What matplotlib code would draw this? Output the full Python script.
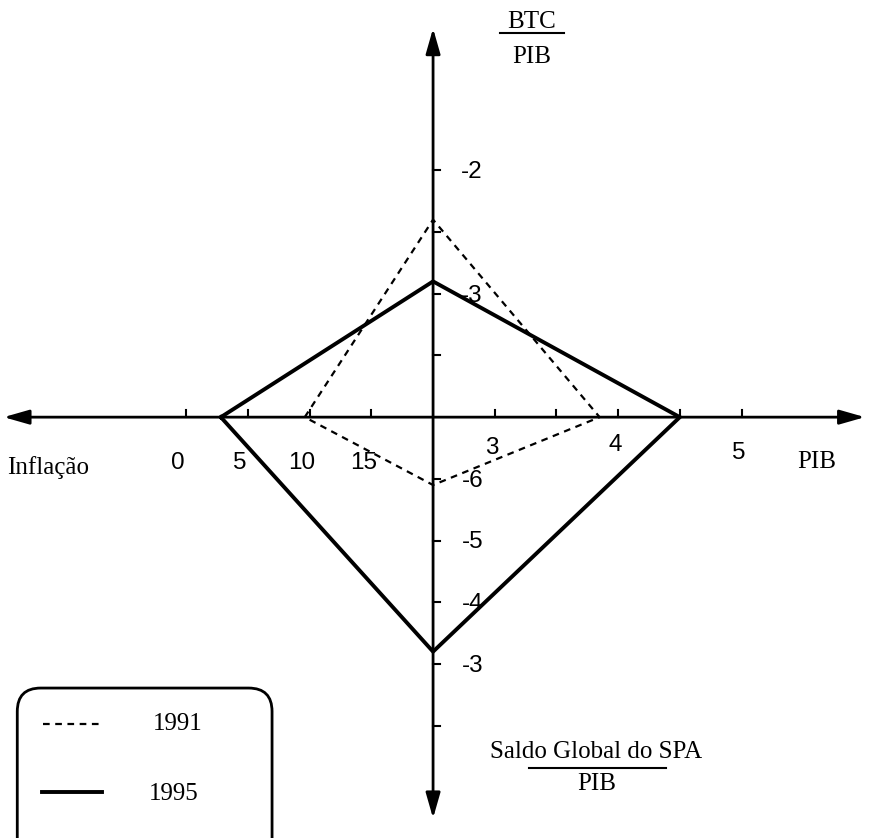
import matplotlib
matplotlib.use("Agg")
import matplotlib.pyplot as plt
from matplotlib.patches import FancyBboxPatch

# %% DATA
years = ["1991", "1995"]
inflacao = [9.6, 2.8]
btc_pib = [-2.4, -2.9]
pib = [3.85, 4.5]
saldo_spa = [-5.9, -3.2]

infl_ticks = [0, 5, 10, 15]
infl_labels = ["0", "5", "10", "15"]
btc_ticks = [-2, -2.5, -3, -3.5]
btc_labels = ["-2", "", "-3", ""]
pib_ticks = [3, 3.5, 4, 4.5, 5]
pib_lab_vals = [3, 4, 5]
pib_labels = ["3", "4", "5"]
saldo_ticks = [-6, -5, -4, -3, -2]
saldo_labels = ["-6", "-5", "-4", "-3", ""]


# each half axis has its own scale, all meet at the centre
def x_infl(v):
    return -(20 - v) / 5.0


def x_pib(v):
    return (v - 2.5) * 2.0


def y_btc(v):
    return (v + 4) * 2.0


def y_saldo(v):
    return -(v + 7)


# %% PLOT
fig = plt.figure(figsize=(8.76, 8.38), dpi=100)
ax = fig.add_axes([0, 0, 1, 1])
ax.set_xlim(-7.02, 7.18)
ax.set_ylim(-6.82, 6.76)
ax.axis("off")

arrow = dict(arrowstyle="<|-|>,head_length=0.7,head_width=0.2", lw=2,
             color="black", mutation_scale=22, shrinkA=0, shrinkB=0)
ax.annotate("", xy=(-6.96, 0), xytext=(7.0, 0), arrowprops=arrow)
ax.annotate("", xy=(0, 6.3), xytext=(0, -6.5), arrowprops=arrow)

tl = 0.12
sans = "Liberation Sans"
serif = "Liberation Serif"
fs_num = 17.5
fs_txt = 18

for v, lab in zip(infl_ticks, infl_labels):
    ax.plot([x_infl(v)] * 2, [0, tl], color="black", lw=1.5)
    ax.text(x_infl(v) - 0.13, -0.74, lab, ha="center", va="center",
            fontsize=fs_num, family=sans)
for v in pib_ticks:
    ax.plot([x_pib(v)] * 2, [0, tl], color="black", lw=1.5)
pib_lab_y = [-0.5, -0.45, -0.58]
for v, lab, yy in zip(pib_lab_vals, pib_labels, pib_lab_y):
    ax.text(x_pib(v) - 0.05, yy, lab, ha="center", va="center",
            fontsize=fs_num, family=sans)
for v, lab in zip(btc_ticks, btc_labels):
    ax.plot([0, tl], [y_btc(v)] * 2, color="black", lw=1.5)
    if lab:
        ax.text(0.62, y_btc(v) - 0.03, lab, ha="center", va="center",
                fontsize=fs_num, family=sans)
for v, lab in zip(saldo_ticks, saldo_labels):
    ax.plot([0, tl], [y_saldo(v)] * 2, color="black", lw=1.5)
    if lab:
        ax.text(0.64, y_saldo(v) - 0.03, lab, ha="center", va="center",
                fontsize=fs_num, family=sans)

styles = [dict(ls=(0, (3, 2.5)), lw=1.6), dict(ls="-", lw=2.8)]
for i in range(len(years)):
    xs = [x_infl(inflacao[i]), 0, x_pib(pib[i]), 0, x_infl(inflacao[i])]
    ys = [0, y_btc(btc_pib[i]), 0, y_saldo(saldo_spa[i]), 0]
    ax.plot(xs, ys, color="black", solid_joinstyle="miter", **styles[i])

# axis titles
ax.text(1.6, 6.40, "BTC", ha="center", va="center", fontsize=fs_txt,
        family=serif)
ax.plot([1.08, 2.12], [6.22, 6.22], color="black", lw=1.5)
ax.text(1.6, 5.83, "PIB", ha="center", va="center", fontsize=fs_txt,
        family=serif)

ax.text(2.65, -5.43, "Saldo Global do SPA", ha="center", va="center",
        fontsize=fs_txt, family=serif)
ax.plot([1.55, 3.77], [-5.68, -5.68], color="black", lw=1.5)
ax.text(2.65, -5.95, "PIB", ha="center", va="center", fontsize=fs_txt,
        family=serif)

ax.text(-6.9, -0.81, "Inflação", ha="left", va="center", fontsize=fs_txt,
        family=serif)
ax.text(5.9, -0.73, "PIB", ha="left", va="center", fontsize=fs_txt,
        family=serif)

# legend box
box = FancyBboxPatch((-6.74, -7.3), 4.13, 2.91,
                     boxstyle="round,pad=0,rounding_size=0.38",
                     fc="none", ec="black", lw=2, clip_on=False)
ax.add_patch(box)
ax.plot([-6.32, -5.4], [-4.98, -4.98], color="black", **styles[0])
ax.plot([-6.34, -5.36], [-6.08, -6.08], color="black", **styles[1])
ax.text(-4.55, -4.98, years[0], ha="left", va="center", fontsize=fs_txt,
        family=serif)
ax.text(-4.6, -6.1, years[1], ha="left", va="center", fontsize=fs_txt,
        family=serif)

fig.savefig("out.png", dpi=100)
